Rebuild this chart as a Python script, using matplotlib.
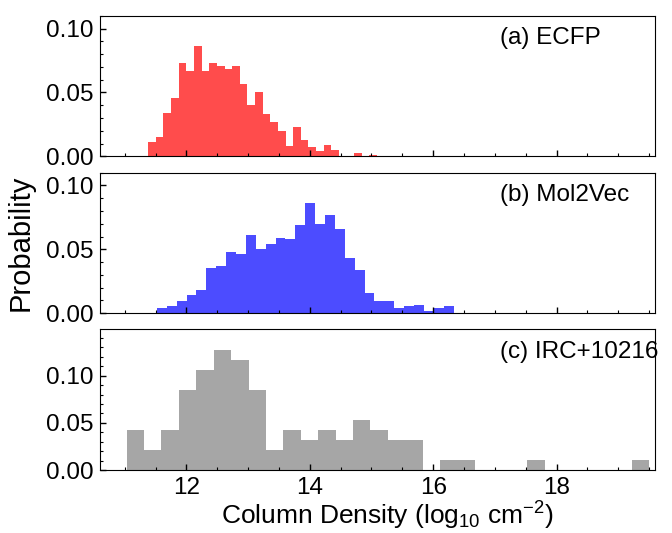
import matplotlib

matplotlib.use("Agg")
import matplotlib.pyplot as plt
from matplotlib.ticker import MultipleLocator
import numpy as np

# --- data (probability per bin) ---
ecfp_range = (11.38, 15.09)
ecfp_prob = [0.0113, 0.0152, 0.0338, 0.0454, 0.0732, 0.0670, 0.0863, 0.0670,
             0.0732, 0.0709, 0.0686, 0.0709, 0.0570, 0.0400, 0.0500, 0.0330,
             0.0268, 0.0198, 0.0082, 0.0229, 0.0129, 0.0075, 0.0044, 0.0090,
             0.0052, 0.0, 0.0, 0.0028, 0.0005, 0.0013]

mol2vec_range = (11.52, 16.33)
mol2vec_prob = [0.0039, 0.0054, 0.0093, 0.0139, 0.0185, 0.0355, 0.0371, 0.0479,
                0.0464, 0.0611, 0.0502, 0.0541, 0.0587, 0.0580, 0.0688, 0.0866,
                0.0696, 0.0765, 0.0657, 0.0433, 0.0340, 0.0155, 0.0093, 0.0093,
                0.0039, 0.0054, 0.0062, 0.0015, 0.0039, 0.0054]

irc_range = (11.03, 19.50)
irc_prob = [0.0426, 0.0213, 0.0426, 0.0851, 0.1064, 0.1277, 0.1170, 0.0851,
            0.0213, 0.0426, 0.0319, 0.0426, 0.0319, 0.0532, 0.0426, 0.0319,
            0.0319, 0.0, 0.0106, 0.0106, 0.0, 0.0, 0.0, 0.0106, 0.0,
            0.0, 0.0, 0.0, 0.0, 0.0106]

labels = ["(a) ECFP", "(b) Mol2Vec", "(c) IRC+10216"]
colors = ["red", "blue", "gray"]
ylims = [0.11, 0.11, 0.149]

plt.rcParams.update({
    "font.family": ["Liberation Sans", "DejaVu Sans"],
    "font.size": 17.5,
    "mathtext.fontset": "custom",
    "mathtext.rm": "Liberation Sans",
    "mathtext.it": "Liberation Sans:italic",
})

fig, axes = plt.subplots(3, 1, figsize=(6.72, 5.33), dpi=100, sharex=True)
fig.subplots_adjust(left=0.149, right=0.975, top=0.9705, bottom=0.118, hspace=0.115)

series = [(ecfp_range, ecfp_prob), (mol2vec_range, mol2vec_prob), (irc_range, irc_prob)]
for ax, (rng, prob), color, label, ymax in zip(axes, series, colors, labels, ylims):
    prob = np.asarray(prob)
    edges = np.linspace(rng[0], rng[1], len(prob) + 1)
    centers = 0.5 * (edges[:-1] + edges[1:])
    ax.hist(centers, bins=edges, weights=prob, color=color, alpha=0.7)
    ax.set_ylim(0, ymax)
    ax.yaxis.set_major_locator(MultipleLocator(0.05))
    ax.yaxis.set_minor_locator(MultipleLocator(0.01))
    ax.xaxis.set_major_locator(MultipleLocator(2))
    ax.xaxis.set_minor_locator(MultipleLocator(0.5))
    ax.tick_params(which="both", direction="in", labelsize=17.5)
    ax.tick_params(which="major", length=4.5, width=1, pad=5)
    ax.tick_params(which="minor", length=2, width=0.8)
    ax.text(0.72, 0.84, label, transform=ax.transAxes, fontsize=17.5, va="center")

axes[-1].set_xlim(10.6, 19.6)
axes[-1].set_xlabel(r"Column Density (log$_{10}$ cm$^{-2}$)", fontsize=19,
                    labelpad=0.5, x=0.518)
fig.text(0.03, 0.544, "Probability", rotation=90, va="center", ha="center", fontsize=21)

fig.savefig("out.png", dpi=100)
